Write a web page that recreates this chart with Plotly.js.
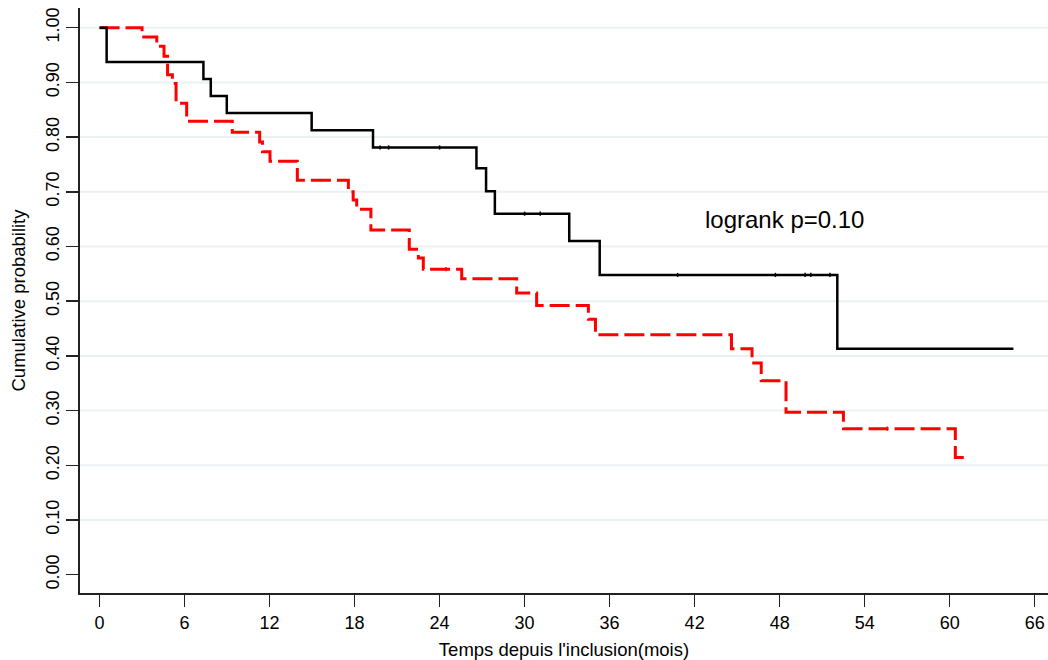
<!DOCTYPE html>
<html>
<head>
<meta charset="utf-8">
<script src="https://cdn.plot.ly/plotly-3.0.1.min.js"></script>
<style>html,body{margin:0;padding:0;background:#fff;}#chart{width:1048px;height:660px;}</style>
</head>
<body>
<div id="chart"></div>
<script>
// Group 1 (black, solid) - Kaplan-Meier step function
var blackTime = [0, 0.5, 7.33, 7.85, 8.98, 14.97, 19.3, 26.6, 27.28, 27.9, 33.15, 35.3, 52.07, 64.5];
var blackSurv = [1.0, 0.9375, 0.906, 0.875, 0.844, 0.8125, 0.781, 0.743, 0.701, 0.660, 0.610, 0.548, 0.413, 0.413];
var blackCensTime = [19.8, 20.4, 24.0, 30.0, 31.1, 40.8, 47.7, 49.8, 50.2, 51.55];
var blackCensSurv = [0.781, 0.781, 0.781, 0.660, 0.660, 0.548, 0.548, 0.548, 0.548, 0.548];

// Group 2 (red, dashed)
var redTime = [0, 3.0, 4.04, 4.55, 4.8, 5.14, 5.4, 6.15, 9.37, 11.3, 11.5, 12.03, 13.96, 17.56, 17.9, 18.15, 19.15, 21.86, 22.5, 22.85, 25.56, 29.44, 30.85, 34.5, 35.0, 44.6, 46.05, 46.7, 48.45, 52.5, 60.4, 61.2];
var redSurv = [1.0, 0.983, 0.966, 0.948, 0.914, 0.898, 0.862, 0.829, 0.809, 0.791, 0.773, 0.756, 0.721, 0.700, 0.685, 0.668, 0.630, 0.595, 0.579, 0.5586, 0.541, 0.515, 0.492, 0.467, 0.4385, 0.413, 0.387, 0.3545, 0.297, 0.267, 0.2143, 0.2143];
var redCensTime = [24.45, 55.6];
var redCensSurv = [0.5586, 0.267];

var xTicks = [0, 6, 12, 18, 24, 30, 36, 42, 48, 54, 60, 66];
var yTicks = [0, 0.1, 0.2, 0.3, 0.4, 0.5, 0.6, 0.7, 0.8, 0.9, 1.0];
var gridVals = [0.1, 0.2, 0.3, 0.4, 0.5, 0.6, 0.7, 0.8, 0.9, 1.0];
var annotationText = 'logrank p=0.10';

var FONT = 'Liberation Sans, Arial, Helvetica, sans-serif';

var traces = [
  {x: redTime, y: redSurv, type: 'scatter', mode: 'lines',
   line: {shape: 'hv', color: '#ff0000', width: 3, dash: '20px,6px'}, hoverinfo: 'skip'},
  {x: blackTime, y: blackSurv, type: 'scatter', mode: 'lines',
   line: {shape: 'hv', color: '#000000', width: 2.5}, hoverinfo: 'skip'},
  {x: blackCensTime, y: blackCensSurv, type: 'scatter', mode: 'markers',
   marker: {symbol: 'line-ns', size: 3, line: {color: '#000', width: 1.5}}, hoverinfo: 'skip'},
  {x: redCensTime, y: redCensSurv, type: 'scatter', mode: 'markers',
   marker: {symbol: 'line-ns', size: 3, line: {color: '#ff0000', width: 1.5}}, hoverinfo: 'skip'}
];

var shapes = gridVals.map(function(v){
  return {type: 'line', xref: 'paper', yref: 'y', x0: 0, x1: 1, y0: v, y1: v,
          line: {color: '#eaf1f3', width: 2}, layer: 'below'};
});

var layout = {
  width: 1048, height: 660,
  margin: {l: 80, r: 0, t: 8, b: 67},
  paper_bgcolor: '#ffffff', plot_bgcolor: '#ffffff',
  showlegend: false,
  font: {family: FONT, size: 18, color: '#000'},
  xaxis: {
    range: [-1.38, 66.94], tickvals: xTicks, ticktext: xTicks.map(String),
    showgrid: false, zeroline: false, showline: true, linecolor: '#222', linewidth: 2,
    ticks: 'outside', ticklen: 12, tickwidth: 1.5, tickcolor: '#222',
    tickfont: {family: FONT, size: 18, color: '#000'},
    title: {text: "Temps depuis l'inclusion(mois)", font: {family: FONT, size: 18.5, color: '#000'}, standoff: 12}
  },
  yaxis: {
    range: [-0.0334, 1.036], tickvals: yTicks, tickformat: '.2f', tickangle: -90,
    showgrid: false, zeroline: false, showline: true, linecolor: '#222', linewidth: 2,
    ticks: 'outside', ticklen: 12, tickwidth: 1.5, tickcolor: '#222',
    tickfont: {family: FONT, size: 18, color: '#000'},
    title: {text: 'Cumulative probability', font: {family: FONT, size: 18.5, color: '#000'}, standoff: 12}
  },
  shapes: shapes,
  annotations: [{
    x: 42.6, y: 0.649, xref: 'x', yref: 'y', text: annotationText, showarrow: false,
    xanchor: 'left', yanchor: 'middle', font: {family: FONT, size: 24, color: '#000'}
  }]
};

Plotly.newPlot('chart', traces, layout, {staticPlot: true, displayModeBar: false});
</script>
</body>
</html>
